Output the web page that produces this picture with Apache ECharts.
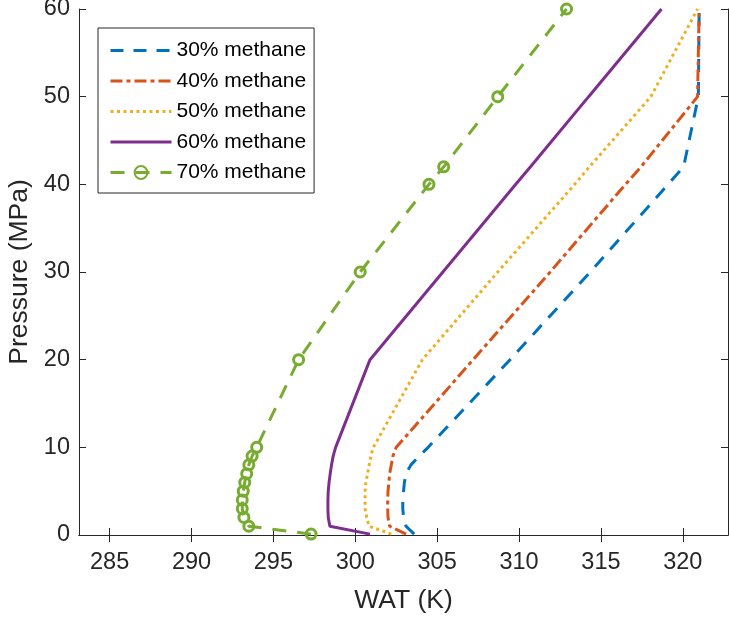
<!DOCTYPE html>
<html>
<head>
<meta charset="utf-8">
<script src="https://cdn.jsdelivr.net/npm/echarts@6/dist/echarts.min.js"></script>
<style>
html,body{margin:0;padding:0;background:#fff;}
#chart{width:729px;height:619px;}
</style>
</head>
<body>
<div id="chart"></div>
<script>
// Pressure levels (MPa) shared by all series
var pressure = [0.1, 1, 2, 3, 4, 5, 6, 7, 8, 9, 10, 20, 30, 40, 42, 50, 60];
// WAT (K) for each methane fraction
var wat30 = [303.6, 303.1, 302.95, 302.9, 302.9, 302.95, 303.0, 303.1, 303.4, 303.9, 304.45, 309.45, 314.35, 319.1, 320.05, 320.95, 321.0];
var wat40 = [303.1, 302.1, 302.0, 301.98, 301.98, 302.0, 302.05, 302.1, 302.2, 302.3, 302.5, 307.2, 311.9, 316.5, 317.45, 320.9, 321.0];
var wat50 = [302.2, 300.85, 300.7, 300.6, 300.6, 300.6, 300.65, 300.75, 300.85, 300.95, 301.1, 304.1, 308.7, 313.4, 314.3, 318.05, 320.9];
var wat60 = [300.9, 298.45, 298.35, 298.33, 298.33, 298.35, 298.4, 298.47, 298.55, 298.65, 298.8, 300.9, 305.35, 309.8, 310.7, 314.25, 318.7];
var wat70 = [297.3, 293.5, 293.2, 293.1, 293.1, 293.16, 293.25, 293.37, 293.5, 293.7, 293.98, 296.54, 300.3, 304.5, 305.4, 308.7, 312.9];
var seriesNames = ['30% methane', '40% methane', '50% methane', '60% methane', '70% methane'];
var xTicks = [285, 290, 295, 300, 305, 310, 315, 320];
var yTicks = [0, 10, 20, 30, 40, 50, 60];

function pairs(xs) { return xs.map(function (v, i) { return [v, pressure[i]]; }); }

var FONT = "'Liberation Sans', Arial, Helvetica, sans-serif";
var AX = '#262626';
var chart = echarts.init(document.getElementById('chart'), null, {renderer: 'canvas'});

var axisCommonX = {
  type: 'value', min: 283.13, max: 322.76,
  axisLine: {show: true, lineStyle: {color: AX, width: 1}},
  splitLine: {show: false}
};
var axisCommonY = {
  type: 'value', min: 0, max: 60, interval: 10,
  axisLine: {show: true, lineStyle: {color: AX, width: 1}},
  splitLine: {show: false}
};

var legendData = seriesNames.map(function (n, i) {
  if (i < 4) return {name: n, itemStyle: {color: 'rgba(0,0,0,0)', borderWidth: 0, opacity: 0}};
  return {name: n};
});

var option = {
  animation: false,
  backgroundColor: '#fff',
  grid: {left: 79, right: 1, top: 9, bottom: 84, containLabel: false, outerBoundsMode: 'none'},
  xAxis: [
    Object.assign({}, axisCommonX, {
      position: 'bottom',
      name: 'WAT (K)', nameLocation: 'middle', nameGap: 52,
      nameTextStyle: {color: AX, fontSize: 26.5, fontFamily: FONT},
      axisTick: {show: true, inside: true, length: 7, lineStyle: {color: AX}, customValues: xTicks},
      axisLabel: {show: true, color: AX, fontSize: 23.5, fontFamily: FONT, margin: 16, customValues: xTicks}
    }),
    Object.assign({}, axisCommonX, {
      position: 'top',
      axisTick: {show: true, inside: true, length: 7, lineStyle: {color: AX}, customValues: xTicks},
      axisLabel: {show: false}
    })
  ],
  yAxis: [
    Object.assign({}, axisCommonY, {
      position: 'left',
      name: 'Pressure (MPa)', nameLocation: 'middle', nameGap: 39,
      nameTextStyle: {color: AX, fontSize: 26.5, fontFamily: FONT},
      axisTick: {show: true, inside: true, length: 7, lineStyle: {color: AX}},
      axisLabel: {show: true, color: AX, fontSize: 23.5, fontFamily: FONT, margin: 9}
    }),
    Object.assign({}, axisCommonY, {
      position: 'right',
      axisTick: {show: true, inside: true, length: 7, lineStyle: {color: AX}},
      axisLabel: {show: false}
    })
  ],
  legend: {
    orient: 'vertical', left: 98, top: 28,
    padding: [12, 8, 10, 11],
    itemWidth: 61, itemHeight: 16, itemGap: 9.5,
    backgroundColor: '#fff', borderColor: AX, borderWidth: 1, borderRadius: 0,
    lineStyle: {width: 3},
    textStyle: {color: '#000', fontSize: 21, fontFamily: FONT, lineHeight: 19},
    data: legendData
  },
  series: [
    {name: seriesNames[0], type: 'line', data: pairs(wat30), symbol: 'none', color: '#0072BD',
     lineStyle: {color: '#0072BD', width: 3, type: [13, 10], cap: 'butt'}},
    {name: seriesNames[1], type: 'line', data: pairs(wat40), symbol: 'none', color: '#D95319',
     lineStyle: {color: '#D95319', width: 3, type: [12, 4, 4, 4], cap: 'butt'}},
    {name: seriesNames[2], type: 'line', data: pairs(wat50), symbol: 'none', color: '#EDB120',
     lineStyle: {color: '#EDB120', width: 3, type: [3, 3.5], cap: 'butt'}},
    {name: seriesNames[3], type: 'line', data: pairs(wat60), symbol: 'none', color: '#7E2F8E',
     lineStyle: {color: '#7E2F8E', width: 3, type: 'solid'}},
    {name: seriesNames[4], type: 'line', data: pairs(wat70), symbol: 'circle', symbolSize: 10, showAllSymbol: true,
     color: '#77AC30',
     itemStyle: {color: 'rgba(0,0,0,0)', borderColor: '#77AC30', borderWidth: 3},
     lineStyle: {color: '#77AC30', width: 3, type: [14, 11], cap: 'butt'}}
  ]
};
chart.setOption(option);
</script>
</body>
</html>
